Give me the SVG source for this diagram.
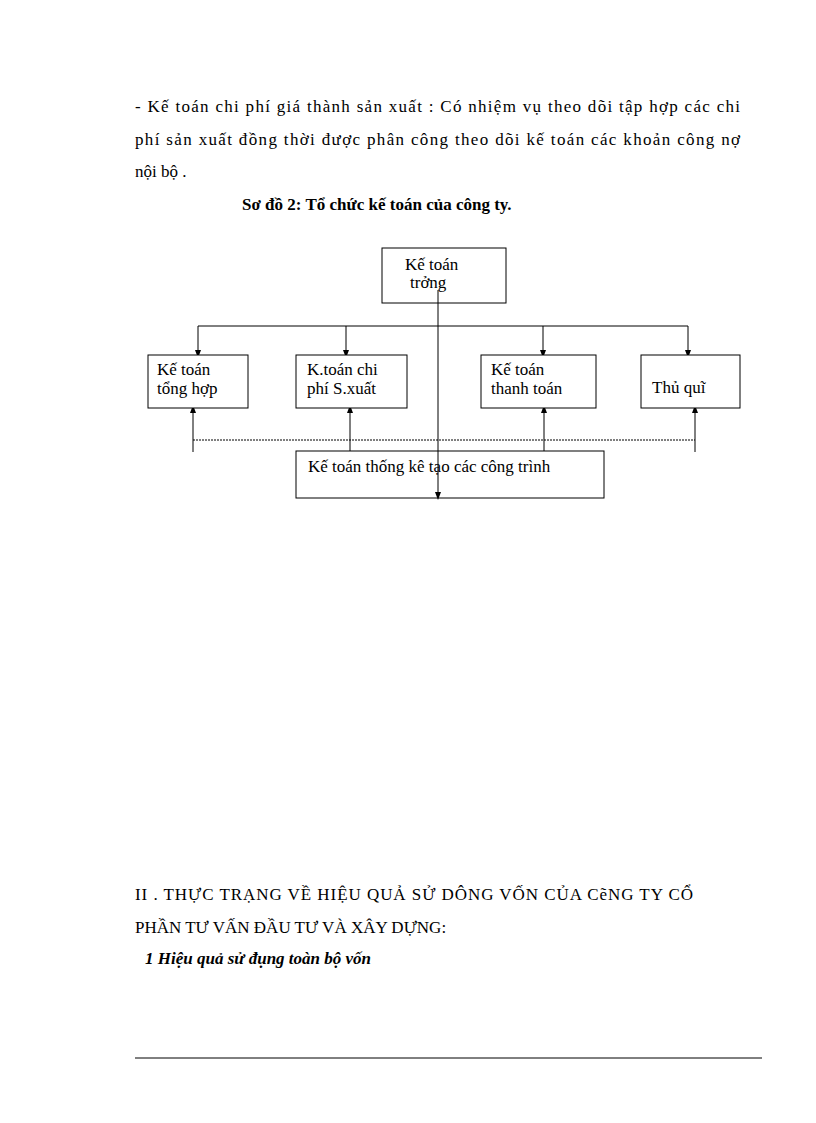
<svg xmlns="http://www.w3.org/2000/svg" width="816" height="1123" viewBox="0 0 816 1123">
<style>
.t{font-family:"Liberation Serif",serif;font-size:17px;fill:#000}
.n{font-family:"Liberation Serif",serif;font-size:17px;fill:#000}
.b{fill:#fff;stroke:#000;stroke-width:1}
.l{stroke:#000;stroke-width:1;fill:none}
</style>
<defs><marker id="a" markerWidth="8" markerHeight="8" refX="4" refY="4" orient="auto" markerUnits="userSpaceOnUse"><path d="M0,1 L8,4 L0,7z" fill="#000"/></marker></defs>
<rect width="816" height="1123" fill="#fff"/>
<text class="t" x="135" y="112" textLength="605" lengthAdjust="spacing">- Kế toán chi phí giá thành sản xuất : Có nhiệm vụ theo dõi tập hợp các chi</text>
<text class="t" x="135" y="145" textLength="605" lengthAdjust="spacing">phí sản xuất đồng thời được phân công theo dõi kế toán các khoản công nợ</text>
<text class="t" x="135" y="177">nội bộ .</text>
<text class="t" x="242" y="210" font-weight="bold">Sơ đồ 2: Tổ chức kế toán của công ty.</text>
<g id="connectors">
<path class="l" d="M198,326H688"/>
<line class="l" x1="198" y1="326" x2="198" y2="354" marker-end="url(#a)"/>
<line class="l" x1="346" y1="326" x2="346" y2="354" marker-end="url(#a)"/>
<line class="l" x1="543" y1="326" x2="543" y2="354" marker-end="url(#a)"/>
<line class="l" x1="688" y1="326" x2="688" y2="354" marker-end="url(#a)"/>
<line class="l" x1="193" y1="452" x2="193" y2="409" marker-end="url(#a)"/>
<line class="l" x1="350" y1="452" x2="350" y2="409" marker-end="url(#a)"/>
<line class="l" x1="544" y1="452" x2="544" y2="409" marker-end="url(#a)"/>
<line class="l" x1="695" y1="452" x2="695" y2="409" marker-end="url(#a)"/>
<line class="l" x1="193" y1="440" x2="695" y2="440" stroke-dasharray="2,1"/>
</g>
<g id="n1"><rect class="b" x="382" y="248" width="124" height="55"/><text class="n" x="405" y="270">Kế toán</text><text class="n" x="410" y="288">trởng</text></g>
<g id="n2"><rect class="b" x="148" y="355" width="100" height="53"/><text class="n" x="157" y="375">Kế toán</text><text class="n" x="157" y="394">tổng hợp</text></g>
<g id="n3"><rect class="b" x="296" y="355" width="111" height="53"/><text class="n" x="307" y="375">K.toán chi</text><text class="n" x="307" y="394">phí S.xuất</text></g>
<g id="n4"><rect class="b" x="481" y="355" width="115" height="53"/><text class="n" x="491" y="375">Kế toán</text><text class="n" x="491" y="394">thanh toán</text></g>
<g id="n5"><rect class="b" x="641" y="355" width="99" height="53"/><text class="n" x="652" y="393">Thủ quĩ</text></g>
<g id="n6"><rect class="b" x="296" y="451" width="308" height="47"/><text class="n" x="308" y="472">Kế toán thống kê tạo các công trình</text></g>
<line class="l" x1="438" y1="290" x2="438" y2="496" marker-end="url(#a)"/>
<text class="t" x="135" y="900" textLength="558" lengthAdjust="spacing">II . THỰC TRẠNG VỀ HIỆU QUẢ SỬ DÔNG VỐN CỦA CẽNG TY CỔ</text>
<text class="t" x="135" y="933">PHẦN TƯ VẤN ĐẦU TƯ VÀ XÂY DỰNG:</text>
<text class="t" x="145" y="964" font-size="18" font-weight="bold" font-style="italic">1 Hiệu quả sử đụng toàn bộ vốn</text>
<line class="l" x1="135" y1="1058" x2="762" y2="1058"/>
</svg>
